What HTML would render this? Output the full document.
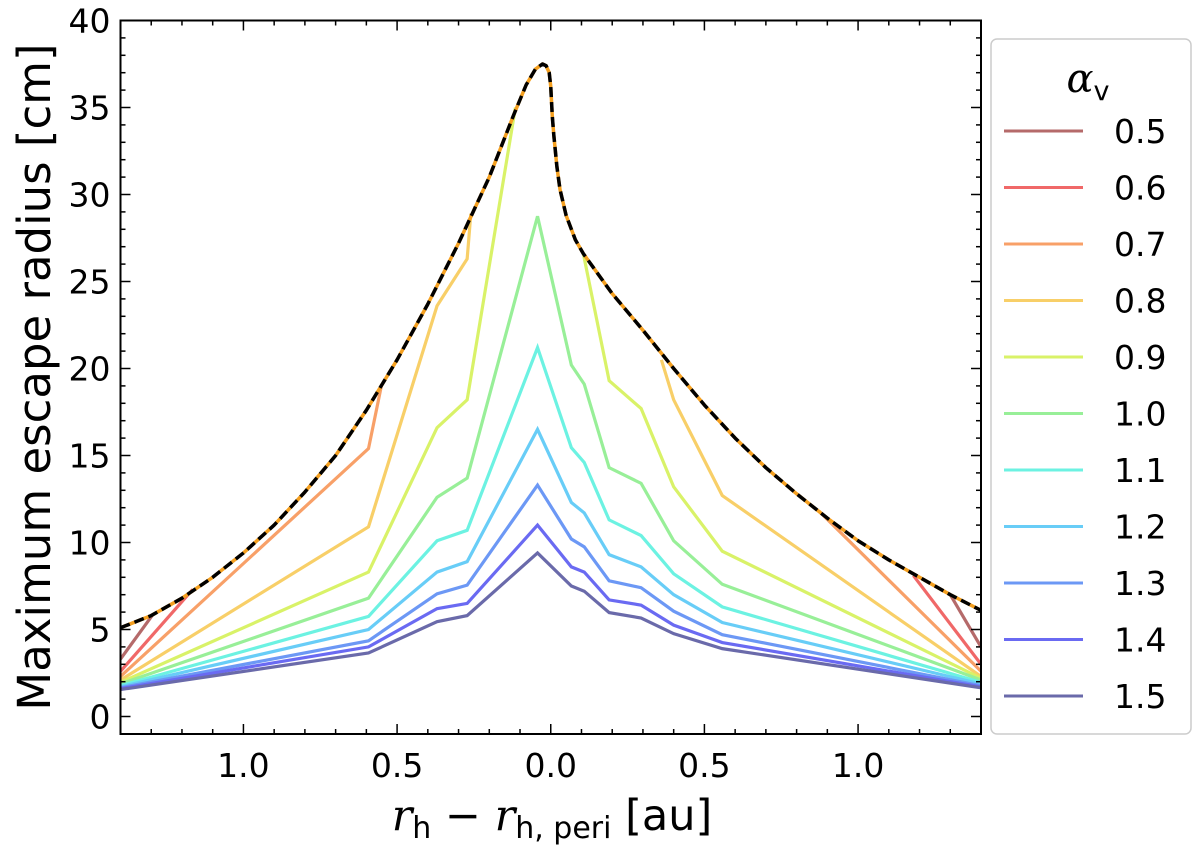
<!DOCTYPE html>
<html><head><meta charset="utf-8"><style>
body{margin:0;background:#fff;}
svg{display:block;font-family:"DejaVu Sans","Liberation Sans",sans-serif;}
</style></head><body>
<svg id="chart" width="1200" height="848" viewBox="0 0 1200 848">
<g id="series"></g>
<g id="axes"></g>
<text x="50" y="377" font-size="45" text-anchor="middle" transform="rotate(-90 50 377)">Maximum escape radius [cm]</text>
<text x="552" y="830" font-size="43" text-anchor="middle"><tspan font-style="italic" font-family="'DejaVu Serif',serif">r</tspan><tspan font-size="30" dy="8">h</tspan><tspan dy="-8"> − </tspan><tspan font-style="italic" font-family="'DejaVu Serif',serif">r</tspan><tspan font-size="30" dy="8">h, peri</tspan><tspan dy="-8"> [au]</tspan></text>
<g id="legend"></g>
</svg>
<script>
const alphas = ["0.5","0.6","0.7","0.8","0.9","1.0","1.1","1.2","1.3","1.4","1.5"];
const colors = ["#b56a6a","#f06868","#f8a068","#f8cf68","#d9f268","#98ef98","#6cf2e2","#68cdf7","#6c98f5","#6a6af2","#6a6aaa"];
const envX = [-1.4,-1.3,-1.2,-1.1,-1.0,-0.9,-0.8,-0.7,-0.6,-0.5,-0.4,-0.3,-0.2,-0.12,-0.08,-0.05,-0.027,-0.015,-0.005,0.0,0.005,0.01,0.02,0.03,0.05,0.08,0.106,0.2,0.3,0.4,0.5,0.6,0.7,0.8,0.9,1.0,1.1,1.2,1.3,1.4];
const envY = [5.1,5.8,6.8,8.0,9.4,11.0,12.9,15.0,17.6,20.5,23.7,27.2,31.0,34.6,36.3,37.2,37.5,37.4,37.0,36.2,34.5,33.4,31.6,30.3,28.8,27.4,26.6,24.3,22.2,20.0,17.9,16.0,14.3,12.8,11.4,10.1,9.0,8.0,7.0,6.1];
const serX = [
 [[-1.4,-1.295],[1.30,1.4]],
 [[-1.4,-1.165],[1.18,1.4]],
 [[-1.4,-0.593,-0.55],[0.873,1.4]],
 [[-1.4,-0.593,-0.37,-0.272,-0.26],[0.36,0.40,0.558,1.4]],
 [[-1.4,-0.593,-0.37,-0.272,-0.115],[0.106,0.19,0.294,0.40,0.558,1.4]],
 [[-1.4,-0.593,-0.37,-0.272,-0.043,0.067,0.109,0.19,0.294,0.40,0.558,1.4]],
 [[-1.4,-0.593,-0.37,-0.272,-0.043,0.067,0.109,0.19,0.294,0.40,0.558,1.4]],
 [[-1.4,-0.593,-0.37,-0.272,-0.043,0.067,0.109,0.19,0.294,0.40,0.558,1.4]],
 [[-1.4,-0.593,-0.37,-0.272,-0.043,0.067,0.109,0.19,0.294,0.40,0.558,1.4]],
 [[-1.4,-0.593,-0.37,-0.272,-0.043,0.067,0.109,0.19,0.294,0.40,0.558,1.4]],
 [[-1.4,-0.593,-0.37,-0.272,-0.043,0.067,0.109,0.19,0.294,0.40,0.558,1.4]]
];
const serY = [
 [[3.3,5.85],[7.0,4.0]],
 [[2.6,7.3],[8.1,3.0]],
 [[2.3,15.4,19.1],[11.8,2.6]],
 [[2.1,10.9,23.6,26.3,28.9],[20.5,18.2,12.7,2.3]],
 [[1.96,8.3,16.6,18.2,35.0],[26.6,19.3,17.7,13.2,9.5,2.2]],
 [[1.87,6.8,12.6,13.7,28.75,20.2,19.1,14.3,13.4,10.1,7.6,2.1]],
 [[1.77,5.75,10.1,10.7,21.2,15.45,14.6,11.3,10.4,8.2,6.3,1.96]],
 [[1.71,5.0,8.3,8.9,16.5,12.3,11.7,9.3,8.6,7.0,5.4,1.87]],
 [[1.65,4.35,7.05,7.55,13.3,10.2,9.75,7.8,7.4,6.05,4.7,1.77]],
 [[1.6,4.0,6.2,6.5,11.0,8.6,8.3,6.7,6.4,5.25,4.25,1.7]],
 [[1.55,3.65,5.45,5.8,9.4,7.5,7.2,5.97,5.66,4.76,3.9,1.65]]
];
const xTicks = [-1.0,-0.5,0.0,0.5,1.0];
const xTickLabels = ["1.0","0.5","0.0","0.5","1.0"];
const yTicks = [0,5,10,15,20,25,30,35,40];

const L=120.5,R=981,T=20.5,B=734;
const xMin=-1.4,xMax=1.4;
const X=v=>L+(v-xMin)/(xMax-xMin)*(R-L);
const Y=v=>716.5-v*(716.5-20.5)/40;
const NS="http://www.w3.org/2000/svg";
function mk(tag,attrs,parent){const e=document.createElementNS(NS,tag);for(const k in attrs)e.setAttribute(k,attrs[k]);parent.appendChild(e);return e;}
const sg=document.getElementById('series');
const clip=mk('clipPath',{id:'pc'},sg);mk('rect',{x:L,y:T,width:R-L,height:B-T},clip);
const cg=mk('g',{'clip-path':'url(#pc)'},sg);
const envPts=envX.map((x,i)=>X(x)+','+Y(envY[i])).join(' ');
for(let s=0;s<serX.length;s++){
  for(let p=0;p<serX[s].length;p++){
    const pts=serX[s][p].map((x,i)=>X(x)+','+Y(serY[s][p][i])).join(' ');
    const pl=mk('polyline',{points:pts,fill:'none',stroke:colors[s],'stroke-width':3.2,'stroke-linejoin':'miter'},cg);
    
    
  }
}
const eu=mk('polyline',{points:envPts,fill:'none',stroke:'#f5a020','stroke-width':3.5,'stroke-linejoin':'round'},cg);


const ed=mk('polyline',{points:envPts,fill:'none',stroke:'#000','stroke-width':3.5,'stroke-dasharray':'10 5','stroke-linejoin':'round'},cg);


const ag=document.getElementById('axes');
const fr=mk('rect',{x:L,y:T,width:R-L,height:B-T,fill:'none',stroke:'#000','stroke-width':2},ag);


for(let i=-14;i<=14;i++){const v=i/10;const x=X(v);const maj=(i%5===0);const len=maj?10:5;
  mk('line',{x1:x,x2:x,y1:B,y2:B-len,stroke:'#000','stroke-width':1.5},ag);
  mk('line',{x1:x,x2:x,y1:T,y2:T+len,stroke:'#000','stroke-width':1.5},ag);}
xTicks.forEach((v,i)=>{const t=mk('text',{x:X(v),y:B+43,'font-size':33,'text-anchor':'middle'},ag);t.textContent=xTickLabels[i];
  
  });
for(let v=-1;v<=40;v++){const y=Y(v);const maj=(v%5===0);const len=maj?10:5;
  mk('line',{x1:L,x2:L+len,y1:y,y2:y,stroke:'#000','stroke-width':1.5},ag);
  mk('line',{x1:R,x2:R-len,y1:y,y2:y,stroke:'#000','stroke-width':1.5},ag);}
yTicks.forEach(v=>{const t=mk('text',{x:L-10,y:Y(v)+12,'font-size':33,'text-anchor':'end'},ag);t.textContent=String(v);
  
  });
const lg=document.getElementById('legend');
mk('rect',{x:991,y:39,width:200,height:695,rx:6,fill:'#fff',stroke:'#ccc','stroke-width':1.5},lg);
const tt=mk('text',{x:1088,y:92,'font-size':40,'text-anchor':'middle'},lg);
tt.innerHTML='<tspan font-style="italic" font-family="\'DejaVu Serif\',serif">α</tspan><tspan font-size="27" dy="8">v</tspan>';


alphas.forEach((a,i)=>{const y=131+i*56.5;
  const ln=mk('line',{x1:1004,x2:1083,y1:y,y2:y,stroke:colors[i],'stroke-width':3},lg);
  
  
  const t=mk('text',{x:1114,y:y+12,'font-size':33},lg);t.textContent=a;
  
  });
</script>
</body></html>
